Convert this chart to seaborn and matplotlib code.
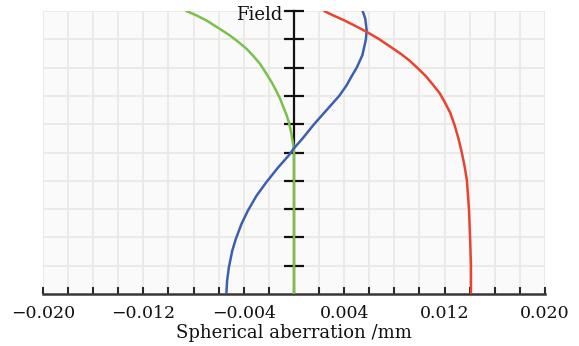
import numpy as np
import pandas as pd
import matplotlib
matplotlib.use("Agg")
import matplotlib.pyplot as plt
import seaborn as sns

# Data (field vs spherical aberration in mm)
green_field = [0.0, 0.1, 0.2, 0.3, 0.4, 0.5, 0.526, 0.573, 0.605, 0.632, 0.66, 0.691, 0.72,
               0.749, 0.78, 0.814, 0.84, 0.867, 0.89, 0.914, 0.94, 0.967, 0.985, 1.0]
green = [0.0, 0.0, 0.0, 0.0, 0.0, 0.0, -0.00005, -0.00024, -0.0004, -0.00059, -0.00084, -0.00112, -0.00144,
         -0.00179, -0.00222, -0.00272, -0.00322, -0.00379, -0.00442, -0.00512, -0.00603, -0.00699, -0.0078, -0.00859]

blue_field = [0.0, 0.047, 0.094, 0.153, 0.194, 0.247, 0.294, 0.347, 0.394, 0.447, 0.488, 0.515,
              0.549, 0.6, 0.655, 0.7, 0.738, 0.77, 0.8, 0.844, 0.9, 0.932, 0.973, 1.0]
blue = [-0.00539, -0.00533, -0.00519, -0.00492, -0.00464, -0.00419, -0.00368, -0.00299, -0.00222, -0.00127, -0.00045, 0.0,
        0.00067, 0.0016, 0.0027, 0.0036, 0.0042, 0.0046, 0.0050, 0.00545, 0.00573, 0.00579, 0.00568, 0.00547]

red_field = [0.0, 0.1, 0.2, 0.3, 0.4, 0.45, 0.502, 0.55, 0.596, 0.64, 0.679, 0.71, 0.738,
             0.77, 0.796, 0.825, 0.849, 0.873, 0.9, 0.926, 0.947, 0.967, 0.985, 1.0]
red = [0.0141, 0.0141, 0.01403, 0.01394, 0.01378, 0.0136, 0.01336, 0.0131, 0.0128, 0.01245, 0.0120, 0.0116, 0.0111,
       0.0105, 0.0099, 0.0092, 0.0085, 0.0077, 0.0068, 0.0058, 0.0049, 0.0040, 0.0031, 0.0024]

xticks = [-0.020, -0.012, -0.004, 0.004, 0.012, 0.020]
xtick_labels = ["\u22120.020", "\u22120.012", "\u22120.004", "0.004", "0.012", "0.020"]

sns.set_style("white")
plt.rcParams['font.family'] = ['DejaVu Serif']

fig = plt.figure(figsize=(5.79, 3.46), dpi=100)
ax = fig.add_axes([43/579, 1-294/346, (545-43)/579, (294-11)/346])
ax.set_facecolor("#fafafa")

series = [
    (pd.DataFrame({"x": green, "field": green_field}), "#7cc04c"),
    (pd.DataFrame({"x": blue, "field": blue_field}), "#3d5fb0"),
    (pd.DataFrame({"x": red, "field": red_field}), "#e8432f"),
]
for df, c in series:
    sns.lineplot(data=df, x="x", y="field", sort=False, estimator=None,
                 color=c, lw=1.8, ax=ax, zorder=3)

ax.set_xlim(-0.020, 0.020)
ax.set_ylim(0, 1)

# grid
for v in np.arange(-0.020, 0.0201, 0.002):
    ax.axvline(v, color="#ebe9e6", lw=1.3, zorder=0)
for v in np.arange(0.1, 1.001, 0.1):
    ax.axhline(v, color="#ebe9e6", lw=1.3, zorder=0)

# x axis
ax.set_xticks(np.arange(-0.020, 0.0201, 0.002), minor=True)
ax.set_xticks(xticks)
ax.set_xticklabels(xtick_labels, fontsize=12.5, color="#111111")
ax.tick_params(axis="x", which="both", direction="in", length=5, width=1.5,
               color="#2a2a2a", pad=8, bottom=True)
ax.set_xlabel("Spherical aberration /mm", fontsize=13, labelpad=1, color="#111111")

# center field axis
ax.spines["left"].set_position(("data", 0))
ax.spines["left"].set_color("#111111")
ax.spines["left"].set_linewidth(1.6)
ax.spines["left"].set_zorder(2)
ax.set_yticks(np.arange(0.1, 1.001, 0.1))
ax.set_yticklabels([])
ax.tick_params(axis="y", direction="inout", length=15, width=1.6, color="#111111", left=True)
ax.spines["right"].set_visible(False)
ax.spines["top"].set_visible(False)
ax.spines["bottom"].set_color("#3a3636")
ax.spines["bottom"].set_linewidth(1.8)
ax.text(-0.00095, 0.985, "Field", ha="right", va="center", fontsize=13, color="#111111")
ax.set_ylabel("")

fig.savefig("out.png", dpi=100, facecolor="white")
